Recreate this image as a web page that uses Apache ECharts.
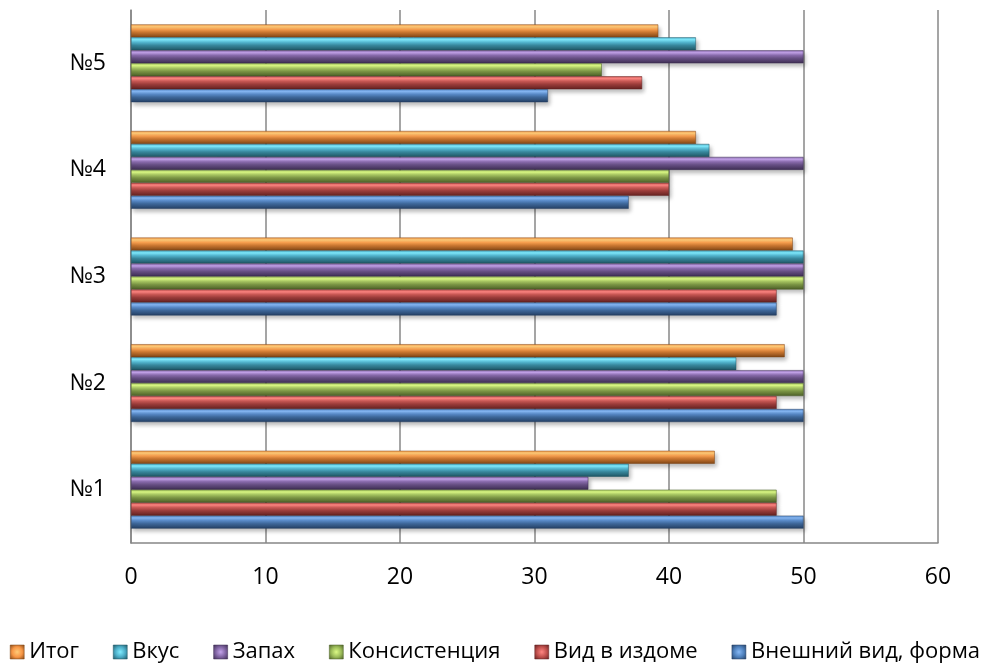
<!DOCTYPE html>
<html>
<head>
<meta charset="utf-8">
<script src="https://cdn.jsdelivr.net/npm/echarts@6/dist/echarts.min.js"></script>
<style>
  html, body { margin: 0; padding: 0; background: #fff; }
  #chart { width: 990px; height: 666px; }
</style>
</head>
<body>
<div id="chart"></div>
<script>
// Samples, bottom to top
const categories = ['№1', '№2', '№3', '№4', '№5'];

// Scores per criterion
const appearance = [50, 50, 48, 37, 31];   // Внешний вид, форма
const crumb      = [48, 48, 48, 40, 38];   // Вид в издоме
const texture    = [48, 50, 50, 40, 35];   // Консистенция
const smell      = [34, 50, 50, 50, 50];   // Запах
const taste      = [37, 45, 50, 43, 42];   // Вкус
const total      = [43.4, 48.6, 49.2, 42, 39.2]; // Итог

const xTicks = [0, 10, 20, 30, 40, 50, 60];

// Listed top bar first: ECharts stacks horizontal bar series from the top of each band
const seriesDefs = [
  { name: 'Итог',               data: total,      c: ['#f79646', '#ffcb78', '#f9a04f', '#c77530', '#7f4515'] },
  { name: 'Вкус',               data: taste,      c: ['#4bacc6', '#80ecff', '#55b9d3', '#37869b', '#1f5563'] },
  { name: 'Запах',              data: smell,      c: ['#8064a2', '#c3a3ea', '#8b6daf', '#654e82', '#3d2d52'] },
  { name: 'Консистенция',       data: texture,    c: ['#9bbb59', '#dcfa85', '#a8c763', '#7a9444', '#4b5e27'] },
  { name: 'Вид в издоме',       data: crumb,      c: ['#c0504d', '#ff8682', '#cc5a56', '#9a3c3a', '#622120'] },
  { name: 'Внешний вид, форма', data: appearance, c: ['#4f81bd', '#86b8f5', '#5a8ccb', '#3d6698', '#243f63'] }
];

function bevel(c) {
  return new echarts.graphic.LinearGradient(0, 0, 0, 1, [
    { offset: 0,    color: c[2] },
    { offset: 0.18, color: c[1] },
    { offset: 0.38, color: c[2] },
    { offset: 0.62, color: c[3] },
    { offset: 1,    color: c[4] }
  ]);
}

function legendIcon(c) {
  return new echarts.graphic.RadialGradient(0.5, 0.5, 0.7, [
    { offset: 0,   color: c[1] },
    { offset: 0.5, color: c[0] },
    { offset: 1,   color: c[4] }
  ]);
}

const chart = echarts.init(document.getElementById('chart'), null, { renderer: 'canvas' });

const fontFamily = '"Open Sans", "Noto Sans", sans-serif';

chart.setOption({
  animation: false,
  grid: { left: 131, right: 52, top: 10, bottom: 123, containLabel: false },
  legend: {
    top: 636,
    left: 'center',
    itemWidth: 14,
    itemHeight: 14,
    itemGap: 34,
    icon: 'rect',
    textStyle: { fontFamily, fontSize: 22, color: '#000' },
    data: seriesDefs.map(s => ({ name: s.name, itemStyle: { color: legendIcon(s.c), borderColor: s.c[4], borderWidth: 0.5 } }))
  },
  xAxis: {
    type: 'value',
    min: xTicks[0],
    max: xTicks[xTicks.length - 1],
    interval: 10,
    axisLine: { show: true, lineStyle: { color: '#878787', width: 1.5 } },
    axisTick: { show: false },
    axisLabel: { margin: 23, fontFamily, fontSize: 23, color: '#000' },
    splitLine: { show: true, lineStyle: { color: '#878787', width: 1.5 } }
  },
  yAxis: {
    type: 'category',
    data: categories,
    axisLine: { show: true, lineStyle: { color: '#878787', width: 1.5 } },
    axisTick: { show: false },
    axisLabel: { margin: 25, fontFamily, fontSize: 23, color: '#000' }
  },
  series: seriesDefs.map(s => ({
    name: s.name,
    type: 'bar',
    data: s.data,
    barGap: '0%',
    barCategoryGap: '27%',
    itemStyle: {
      color: bevel(s.c),
      borderColor: s.c[4],
      borderWidth: 0.5,
      shadowColor: 'rgba(0,0,0,0.28)',
      shadowBlur: 4,
      shadowOffsetX: 2,
      shadowOffsetY: 3
    }
  }))
});
</script>
</body>
</html>
